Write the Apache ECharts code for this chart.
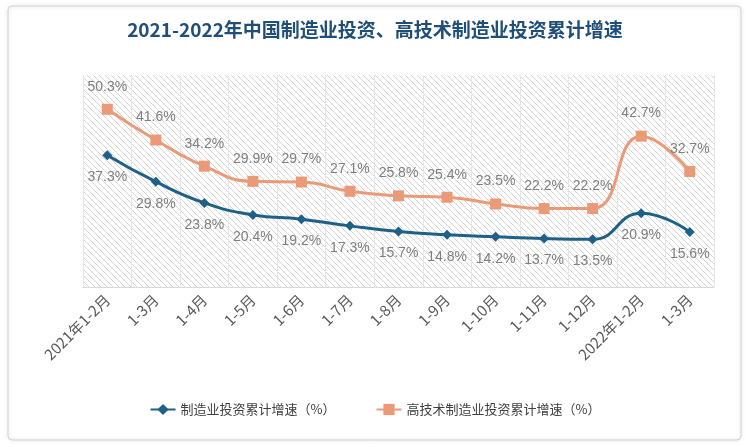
<!DOCTYPE html><html><head><meta charset="utf-8"><script src="https://cdn.jsdelivr.net/npm/echarts@6/dist/echarts.min.js"></script></head><body style="margin:0"><div id="c" style="width:750px;height:447px"></div><script>
const categories=['2021年1-2月','1-3月','1-4月','1-5月','1-6月','1-7月','1-8月','1-9月','1-10月','1-11月','1-12月','2022年1-2月','1-3月'];
const mfg=[37.3,29.8,23.8,20.4,19.2,17.3,15.7,14.8,14.2,13.7,13.5,20.9,15.6];
const hightech=[50.3,41.6,34.2,29.9,29.7,27.1,25.8,25.4,23.5,22.2,22.2,42.7,32.7];
const cv=document.createElement('canvas');cv.width=6;cv.height=6;const g=cv.getContext('2d');
g.fillStyle='#fff';g.fillRect(0,0,6,6);g.strokeStyle='#d4d4d4';g.lineWidth=1;
g.beginPath();g.moveTo(0,0);g.lineTo(6,6);g.moveTo(-3,3);g.lineTo(3,9);g.moveTo(3,-3);g.lineTo(9,3);g.stroke();
const ch=echarts.init(document.getElementById('c'));
const lbl={show:true,color:'#7f7f7f',fontSize:14,formatter:p=>p.value.toFixed(1)+'%',fontFamily:'Liberation Sans'};
ch.setOption({
graphic:[{type:'rect',shape:{x:8,y:6,width:733,height:434,r:4},style:{fill:'none',stroke:'#d0d0d0',lineWidth:1,shadowBlur:4,shadowColor:'rgba(0,0,0,0.2)'}}],
title:{text:'2021-2022年中国制造业投资、高技术制造业投资累计增速',left:'center',top:15,textStyle:{color:'#1f4e79',fontSize:19,fontWeight:'bold',fontFamily:'Noto Sans CJK SC'}},
grid:{left:83,right:36,top:75,bottom:160,show:true,backgroundColor:{image:cv,repeat:'repeat'},borderWidth:0},
legend:{bottom:26,itemGap:40,textStyle:{color:'#404040',fontSize:13,fontFamily:'Noto Sans CJK SC'},data:['制造业投资累计增速（%）','高技术制造业投资累计增速（%）']},
xAxis:{type:'category',data:categories,boundaryGap:true,axisTick:{show:false},axisLine:{lineStyle:{color:'#d9d9d9'}},splitLine:{show:true,lineStyle:{color:'#e6e6e6'}},axisLabel:{rotate:45,interval:0,color:'#595959',fontSize:15,fontFamily:'Noto Sans CJK SC',margin:10}},
yAxis:{type:'value',min:0,max:60,show:false,splitLine:{show:false}},
series:[
{name:'制造业投资累计增速（%）',type:'line',smooth:true,data:mfg,symbol:'diamond',symbolSize:10,color:'#1f6086',lineStyle:{width:3},label:Object.assign({position:'bottom',distance:10},lbl)},
{name:'高技术制造业投资累计增速（%）',type:'line',smooth:true,data:hightech,symbol:'rect',symbolSize:11,color:'#eb9a77',lineStyle:{width:3},label:Object.assign({position:'top',distance:10},lbl)}
]});
</script></body></html>
